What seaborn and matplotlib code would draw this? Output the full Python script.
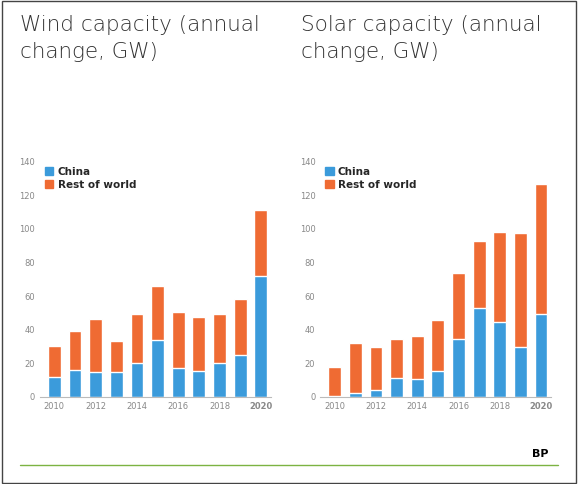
import matplotlib
matplotlib.use("Agg")
import matplotlib.pyplot as plt
import seaborn as sns
import pandas as pd
from matplotlib.patches import Patch, Rectangle
from matplotlib.lines import Line2D

years = list(range(2010, 2021))
wind_china = [12, 16, 15, 15, 20, 34, 17, 15.5, 20, 25, 72]
wind_total = [30.5, 39, 46.5, 33, 49.5, 66, 50.5, 47.5, 49.5, 58.5, 111]
solar_china = [0.5, 2.4, 4, 11, 10.7, 15.5, 34.5, 53, 44.7, 29.8, 49.4]
solar_total = [17.5, 32, 29.8, 34.5, 36, 46, 74, 93, 98.3, 97.7, 126.5]
titles = ["Wind capacity (annual\nchange, GW)", "Solar capacity (annual\nchange, GW)"]

BLUE = "#3b9bdb"
ORANGE = "#ef6b33"

sns.set_style("white")
fig = plt.figure(figsize=(5.78, 4.84), dpi=100)
fig.patches.append(Rectangle((0.003, 0.003), 0.994, 0.994, transform=fig.transFigure,
                             fill=False, edgecolor="#444444", lw=1))
fig.lines.append(Line2D([0.035, 0.965], [0.04, 0.04], transform=fig.transFigure,
                        color="#7cb342", lw=1))
fig.text(0.935, 0.055, "BP", fontsize=8, fontweight="bold", ha="center", color="black")

for i, (china, total, title) in enumerate([(wind_china, wind_total, titles[0]),
                                           (solar_china, solar_total, titles[1])]):
    left = 0.069 if i == 0 else 0.554
    ax = fig.add_axes([left, 0.18, 0.40, 0.486])
    df = pd.DataFrame({"year": [str(y) for y in years], "china": china, "total": total})
    sns.barplot(data=df, x="year", y="total", color=ORANGE, ax=ax, width=0.62, saturation=1)
    sns.barplot(data=df, x="year", y="china", color=BLUE, ax=ax, width=0.62, saturation=1)
    ax.set_ylim(0, 140)
    ax.set_yticks(range(0, 141, 20))
    ax.set_xlim(-0.7, 10.5)
    ax.set_xticks(range(0, 11, 2))
    ax.set_xticklabels([str(y) for y in years[::2]])
    for lab in ax.get_xticklabels():
        if lab.get_text() == "2020":
            lab.set_fontweight("bold")
            lab.set_color("#333333")
    ax.tick_params(labelsize=6, colors="#888888", length=0)
    ax.set_xlabel("")
    ax.set_ylabel("")
    for s in ["top", "right", "left"]:
        ax.spines[s].set_visible(False)
    ax.spines["bottom"].set_color("#bbbbbb")
    leg = ax.legend(handles=[Patch(color=BLUE, label="China"), Patch(color=ORANGE, label="Rest of world")],
                    loc="upper left", bbox_to_anchor=(0.0, 1.0), frameon=False,
                    prop={"size": 7.5, "weight": "bold"}, handlelength=0.8, handleheight=0.8,
                    labelspacing=0.3, handletextpad=0.4, borderaxespad=0.1)
    fig.text(left - 0.034, 0.97, title, fontsize=15.5, va="top", ha="left",
             color="#333333", fontweight="light", linespacing=1.45)

fig.savefig("out.png", dpi=100)
